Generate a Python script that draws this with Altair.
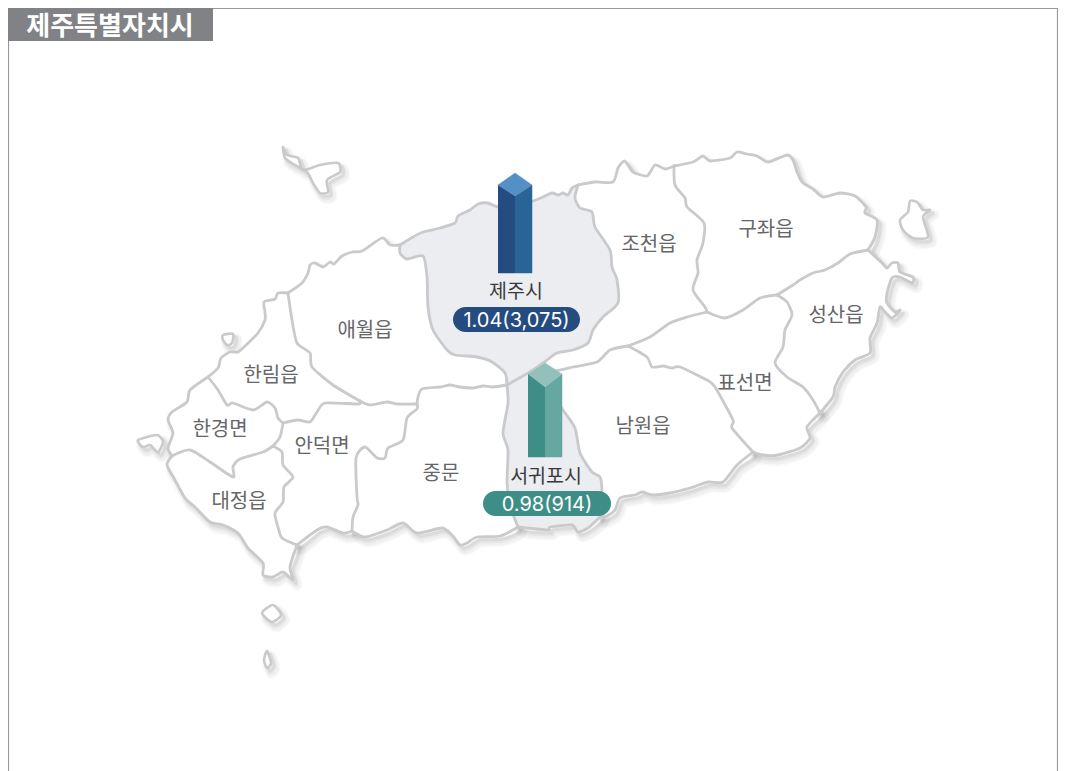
import altair as alt
import pandas as pd

# ---- map arcs (image pixel units) ----
coast_hallim = [(208,377),(218,368),(221,358),(230,352),(238,352),(245,346),(258,333),(265,320),(265,312),(264,302),(275,299),(278,293),(288,293)]
coast_aewol = [(288,293),(302,283),(308,273),(310,265),(315,263),(323,267),(330,262),(334,264),(342,256),(352,252),(362,251),(382,238),(390,245),(400,245)]
coast_jeju = [(400,245),(413,237),(423,232),(440,228),(455,223),(458,216),(470,210),(478,204),(488,203),(498,207),(515,205),(530,202),(543,197),(552,193),(558,195),(563,193),(568,195),(572,188),(578,185)]
coast_jocheon = [(578,185),(595,182),(613,182),(618,168),(624,161),(628,165),(633,172),(647,176),(655,165),(665,169),(674,166)]
coast_gujwa = [(674,166),(693,162),(703,156),(710,161),(730,158),(737,152),(747,154),(757,156),(768,162),(787,155),(793,160),(797,172),(802,182),(813,189),(823,197),(840,193),(855,196),(866,207),(865,213),(877,220),(875,237),(868,250)]
coast_seongsan = [(868,250),(882,263),(887,268),(892,263),(898,263),(900,272),(913,277),(912,283),(900,277),(892,278),(887,293),(887,303),(895,312),(900,310),(892,318),(885,312),(880,307),(877,323),(870,338),(870,353),(855,360),(843,372),(835,387),(833,397),(820,413)]
coast_pyoseon = [(820,413),(807,427),(810,438),(800,448),(778,455),(763,455),(753,452)]
coast_namwon = [(753,452),(737,465),(723,482),(708,482),(690,488),(670,493),(653,495),(642,492),(635,495),(620,498),(615,510),(607,516),(600,517)]
coast_seogwipo = [(600,517),(588,528),(578,532),(572,525),(550,527),(548,530),(518,527)]
coast_jungmun = [(352,531),(365,537),(387,530),(403,523),(417,533),(442,528),(452,535),(460,545),(467,543),(477,537),(500,536),(518,527)]
coast_andeok = [(297,545),(317,530),(327,527),(343,533),(352,531)]
coast_daejeong = [(172,456),(167,465),(175,480),(185,498),(195,507),(210,522),(223,525),(238,533),(248,548),(263,563),(263,575),(273,577),(283,572),(293,580),(290,567),(297,545)]
coast_hangyeong = [(208,377),(190,390),(187,402),(172,412),(168,420),(173,433),(168,448),(172,456)]

hallim_aewol = [(288,293),(292,320),(297,343),(310,353),(312,367),(333,385),(360,401)]
aewol_andeok = [(417,404),(397,404),(387,402),(370,405),(360,401)]
hallim_andeok = [(360,401),(358,404),(325,403),(317,412),(310,422),(298,420),(283,423)]
hallim_hangyeong = [(208,377),(218,390),(227,405),(233,403),(253,410),(267,402),(275,408),(278,418),(283,423)]
hangyeong_daejeong = [(172,456),(190,450),(210,462),(233,477),(233,467),(240,459),(263,452),(273,446)]
hangyeong_andeok = [(283,423),(280,437),(273,446)]
daejeong_andeok = [(273,446),(282,452),(283,465),(293,477),(284,487),(283,502),(275,513),(278,527),(282,538),(297,545)]
andeok_jungmun = [(417,404),(417,409),(407,418),(403,440),(388,448),(385,458),(377,458),(365,447),(356,458),(357,497),(358,505),(353,517),(352,531)]
aewol_jungmun = [(507,385),(493,387),(483,386),(473,388),(460,387),(450,385),(440,387),(422,389),(418,397),(417,404)]
jeju_west = [(400,245),(400,253),(407,259),(423,256),(427,277),(428,307),(433,330),(447,350),(455,355),(477,357),(492,362),(505,373),(507,385)]
jeju_jocheon = [(578,185),(575,198),(580,208),(592,212),(595,227),(610,250),(612,267),(617,280),(618,303),(603,317),(593,330),(588,343),(573,350),(557,353),(543,363),(530,372)]
jeju_seogwipo = [(530,372),(507,385)]
jungmun_seogwipo = [(507,385),(508,403),(503,433),(508,450),(507,483),(510,505),(518,527)]
seogwipo_namwon = [(530,372),(550,390),(563,410),(575,428),(580,453),(592,472),(600,477),(602,493),(600,517)]
jocheon_namwon = [(530,372),(555,371),(573,367),(597,362),(610,350),(628,346)]
jocheon_pyoseon = [(628,346),(650,337),(670,323),(687,317),(707,312)]
namwon_pyoseon = [(628,346),(647,357),(652,367),(663,366),(672,368),(680,367),(707,380),(715,387),(733,420),(732,428),(753,452)]
jocheon_gujwa = [(674,166),(675,185),(685,198),(687,207),(704,223),(703,243),(697,260),(698,273),(693,290),(705,307),(707,312)]
gujwa_pyoseon = [(707,312),(725,318),(743,310),(760,298),(777,295)]
gujwa_seongsan = [(777,295),(793,285),(800,280),(813,273),(825,270),(838,263),(850,254),(868,250)]
seongsan_pyoseon = [(777,295),(787,302),(792,315),(785,330),(783,347),(775,363),(787,377),(803,387),(813,400),(820,413)]

isle_biyang_e = [(910,201),(917,202),(923,210),(930,210),(923,217),(928,237),(913,238),(903,230),(900,220),(908,212)]
isle_chuja = [(283,147),(287,155),(298,158),(303,170),(320,165),(338,163),(340,172),(327,180),(328,192),(320,193),(313,183),(307,172),(295,165),(285,158)]
isle_biyang_w = [(223,335),(233,334),(232,343),(227,345),(223,340)]
isle_chagwi = [(138,440),(157,435),(163,442),(158,452),(150,445),(143,447)]
isle_gapa = [(262,613),(273,605),(281,615),(272,622)]
isle_mara = [(267,651),(271,663),(267,668),(264,660)]

def r(a):
    return a[::-1]

isles = {"i1": isle_biyang_e, "i2": isle_chuja, "i3": isle_biyang_w,
         "i4": isle_chagwi, "i5": isle_gapa, "i6": isle_mara}

land = {
    "hallim": coast_hallim + hallim_aewol + hallim_andeok + r(hallim_hangyeong),
    "aewol": coast_aewol + jeju_west + aewol_jungmun + aewol_andeok + r(hallim_aewol),
    "hangyeong": coast_hangyeong + hangyeong_daejeong + r(hangyeong_andeok) + r(hallim_hangyeong),
    "daejeong": coast_daejeong + r(daejeong_andeok) + r(hangyeong_daejeong),
    "andeok": hangyeong_andeok + daejeong_andeok + coast_andeok + r(andeok_jungmun) + aewol_andeok + hallim_andeok,
    "jungmun": andeok_jungmun + coast_jungmun + r(jungmun_seogwipo) + aewol_jungmun,
    "jeju": coast_jeju + jeju_jocheon + jeju_seogwipo + r(jeju_west),
    "seogwipo": jungmun_seogwipo + r(coast_seogwipo) + r(seogwipo_namwon) + jeju_seogwipo,
    "namwon": jocheon_namwon + namwon_pyoseon + coast_namwon + r(seogwipo_namwon),
    "jocheon": coast_jocheon + jocheon_gujwa + r(jocheon_pyoseon) + r(jocheon_namwon) + r(jeju_jocheon),
    "gujwa": coast_gujwa + r(gujwa_seongsan) + r(gujwa_pyoseon) + r(jocheon_gujwa),
    "seongsan": coast_seongsan + r(seongsan_pyoseon) + gujwa_seongsan,
    "pyoseon": jocheon_pyoseon + gujwa_pyoseon + seongsan_pyoseon + coast_pyoseon + r(namwon_pyoseon),
}
land.update(isles)

arcs = {k: v for k, v in globals().items()
        if isinstance(v, list) and v and isinstance(v[0], tuple)
        and not k.startswith(("isle_", "bar_"))}

bar_jeju_left = [(498,185),(515,196),(515,273),(498,273)]
bar_jeju_right = [(515,196),(532,185),(532,273),(515,273)]
bar_jeju_top = [(498,185),(515,173),(532,185),(515,196)]
bar_seog_left = [(528,374),(545,387),(545,457),(528,457)]
bar_seog_right = [(545,387),(562,374),(562,457),(545,457)]
bar_seog_top = [(528,374),(545,363),(562,374),(545,387)]

region_names = ["애월읍","조천읍","구좌읍","성산읍","표선면","남원읍","중문","안덕면","한림읍","한경면","대정읍"]
region_x = [365,649,766,836,745,643,441,322,271,220,239]
region_y = [331,245,230,316,384,427,474,447,376,430,502]
city_names = ["제주시","서귀포시"]
city_x = [516,546]
city_y = [292,477]
badge_labels = ["1.04(3,075)","0.98(914)"]
badge_x = [453,483]
badge_x2 = [580,611]
badge_y = [307,491]
badge_y2 = [332,516]
badge_colors = ["#254c80","#3d8e86"]
title_text = "제주특별자치시"

X = alt.Scale(domain=[8,1058], range=[0,1050])
Y = alt.Scale(domain=[8,771], range=[0,763])

def dedupe(pts):
    out = []
    for p in pts:
        if not out or out[-1] != p:
            out.append(p)
    if len(out) > 1 and out[0] == out[-1]:
        out.pop()
    return out

def path_df(polys):
    rows = []
    for name, pts in polys.items():
        for i, (x, y) in enumerate(dedupe(pts)):
            rows.append({"s": name, "i": i, "x": x, "y": y})
    return pd.DataFrame(rows)

def lines(polys, interpolate="cardinal-closed", **mk):
    return alt.Chart(path_df(polys)).mark_line(
        strokeJoin="round", strokeCap="round", interpolate=interpolate, tension=0.3, **mk
    ).encode(
        x=alt.X("x:Q", scale=X, axis=None),
        y=alt.Y("y:Q", scale=Y, axis=None),
        detail="s:N",
        order="i:Q",
    )

layers = []
# frame
frame = pd.DataFrame({"x":[8.5,8.5,1057.5,1057.5],"y":[771,8.5,8.5,771],"i":[0,1,2,3]})
layers.append(alt.Chart(frame).mark_line(color="#9a9a9c", strokeWidth=1.2).encode(
    x=alt.X("x:Q", scale=X, axis=None), y=alt.Y("y:Q", scale=Y, axis=None), order="i:Q"))
# soft shadow
for w, o, dx, dy in [(11,0.035,4,5),(8,0.05,4,5),(5,0.07,3,4),(3,0.09,3,3)]:
    layers.append(lines(land, color="#606065", strokeWidth=w, opacity=o, xOffset=dx, yOffset=dy))
# land
layers.append(lines(land, color="#ffffff", fill="#ffffff", strokeWidth=1))
layers.append(lines({k: land[k] for k in ["jeju","seogwipo"]}, color="#ecedf1", fill="#ecedf1", strokeWidth=1))
layers.append(lines(arcs, interpolate="cardinal", color="#c9cacc", strokeWidth=2.8))
layers.append(lines(isles, color="#c9cacc", strokeWidth=2.6))
# prism bars
for pts, col in [(bar_jeju_left,"#254c80"),(bar_jeju_right,"#2a6496"),(bar_jeju_top,"#5490c5"),
                 (bar_seog_left,"#3d8e86"),(bar_seog_right,"#66a7a1"),(bar_seog_top,"#93c0bb")]:
    layers.append(alt.Chart(path_df({"b": pts + pts[:1]})).mark_line(color=col, fill=col, strokeWidth=0.5).encode(
        x=alt.X("x:Q", scale=X, axis=None), y=alt.Y("y:Q", scale=Y, axis=None), order="i:Q"))
# labels
layers.append(alt.Chart(pd.DataFrame({"t":region_names,"x":region_x,"y":region_y})).mark_text(
    font="Noto Sans CJK KR", fontSize=20, color="#666668", baseline="middle").encode(
    x=alt.X("x:Q", scale=X, axis=None), y=alt.Y("y:Q", scale=Y, axis=None), text="t:N"))
layers.append(alt.Chart(pd.DataFrame({"t":city_names,"x":city_x,"y":city_y})).mark_text(
    font="Noto Sans CJK KR", fontSize=19.5, color="#3a3a3c", baseline="middle").encode(
    x=alt.X("x:Q", scale=X, axis=None), y=alt.Y("y:Q", scale=Y, axis=None), text="t:N"))
# badges
bdf = pd.DataFrame({"t":badge_labels,"x":badge_x,"x2":badge_x2,"y":badge_y,"y2":badge_y2,"c":badge_colors})
bdf["xc"] = (bdf.x + bdf.x2) / 2
bdf["yc"] = (bdf.y + bdf.y2) / 2 + 1
layers.append(alt.Chart(bdf).mark_rect(cornerRadius=12.5).encode(
    x=alt.X("x:Q", scale=X, axis=None), x2="x2:Q",
    y=alt.Y("y:Q", scale=Y, axis=None), y2="y2:Q",
    color=alt.Color("c:N", scale=None)))
layers.append(alt.Chart(bdf).mark_text(font="Inter", fontSize=20, color="#ffffff", baseline="middle").encode(
    x=alt.X("xc:Q", scale=X, axis=None), y=alt.Y("yc:Q", scale=Y, axis=None), text="t:N"))
# title tab
tab = pd.DataFrame({"x":[8],"x2":[213],"y":[8],"y2":[41],"xt":[110],"yt":[26.5],"t":[title_text]})
layers.append(alt.Chart(tab).mark_rect(color="#808285").encode(
    x=alt.X("x:Q", scale=X, axis=None), x2="x2:Q",
    y=alt.Y("y:Q", scale=Y, axis=None), y2="y2:Q"))
layers.append(alt.Chart(tab).mark_text(font="Noto Sans CJK KR", fontSize=26, fontWeight="bold", color="#ffffff", baseline="middle").encode(
    x=alt.X("xt:Q", scale=X, axis=None), y=alt.Y("yt:Q", scale=Y, axis=None), text="t:N"))

chart = alt.layer(*layers).properties(
    width=1050, height=763, padding=0, autosize=alt.AutoSizeParams(type="none"), background="#ffffff"
).configure_view(stroke=None)
chart.save("out.html", embed_options={"renderer": "svg", "actions": False})
